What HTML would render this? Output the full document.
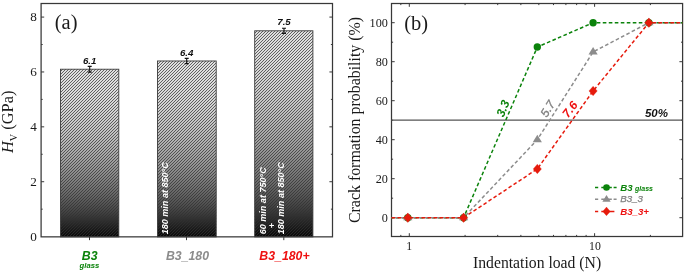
<!DOCTYPE html>
<html><head><meta charset="utf-8"><title>chart</title>
<style>
html,body{margin:0;padding:0;background:#fff;}
svg{display:block;will-change:transform;}
text{font-family:"Liberation Sans",sans-serif;}
.ser{font-family:"Liberation Serif",serif;fill:#1a1a1a;}
.sbi{font-weight:bold;font-style:italic;}
.sb{font-weight:bold;}
.si{font-style:italic;}
.sr{font-weight:normal;}
</style></head><body>
<svg width="685" height="277" viewBox="0 0 685 277">
<rect width="685" height="277" fill="#fff"/>
<defs>
<pattern id="h" width="3" height="3" patternUnits="userSpaceOnUse" shape-rendering="crispEdges">
<rect width="3" height="3" fill="#303030" fill-opacity="0.15"/>
<path d="M0,2h1v1h-1z M1,1h1v1h-1z M2,0h1v1h-1z" fill="#303030" fill-opacity="0.72"/>
</pattern>
<linearGradient id="g" x1="0" y1="0" x2="0" y2="1">
<stop offset="0.00" stop-color="#ffffff"/>
<stop offset="0.05" stop-color="#fefefe"/>
<stop offset="0.10" stop-color="#fcfcfc"/>
<stop offset="0.15" stop-color="#f9f9f9"/>
<stop offset="0.20" stop-color="#f5f5f5"/>
<stop offset="0.25" stop-color="#efefef"/>
<stop offset="0.30" stop-color="#e8e8e8"/>
<stop offset="0.35" stop-color="#e0e0e0"/>
<stop offset="0.40" stop-color="#d6d6d6"/>
<stop offset="0.45" stop-color="#cbcbcb"/>
<stop offset="0.50" stop-color="#bfbfbf"/>
<stop offset="0.55" stop-color="#b2b2b2"/>
<stop offset="0.60" stop-color="#a3a3a3"/>
<stop offset="0.65" stop-color="#939393"/>
<stop offset="0.70" stop-color="#828282"/>
<stop offset="0.75" stop-color="#707070"/>
<stop offset="0.80" stop-color="#5c5c5c"/>
<stop offset="0.85" stop-color="#474747"/>
<stop offset="0.90" stop-color="#303030"/>
<stop offset="0.95" stop-color="#191919"/>
<stop offset="1.00" stop-color="#000000"/>
</linearGradient>
<filter id="bl" x="-2%" y="-2%" width="104%" height="104%"><feGaussianBlur stdDeviation="0.4"/></filter>
</defs>
<rect x="60.5" y="69.22" width="58.30" height="167.63" fill="url(#g)"/>
<rect x="60.5" y="69.22" width="58.30" height="167.63" fill="url(#h)"/>
<rect x="60.5" y="69.22" width="58.30" height="167.63" fill="none" stroke="#3c3c3c" stroke-width="0.9"/>
<path d="M89.7,66.33 V72.10 M87.7,66.33 h4 M87.7,72.10 h4" stroke="#111" stroke-width="1.1" fill="none"/>
<text x="89.7" y="63.82" text-anchor="middle" class="sbi" font-size="9.7" fill="#111">6.1</text>
<rect x="157.5" y="60.98" width="58.70" height="175.87" fill="url(#g)"/>
<rect x="157.5" y="60.98" width="58.70" height="175.87" fill="url(#h)"/>
<rect x="157.5" y="60.98" width="58.70" height="175.87" fill="none" stroke="#3c3c3c" stroke-width="0.9"/>
<path d="M186.7,58.38 V63.59 M184.7,58.38 h4 M184.7,63.59 h4" stroke="#111" stroke-width="1.1" fill="none"/>
<text x="186.7" y="55.58" text-anchor="middle" class="sbi" font-size="9.7" fill="#111">6.4</text>
<rect x="254.7" y="30.80" width="58.20" height="206.05" fill="url(#g)"/>
<rect x="254.7" y="30.80" width="58.20" height="206.05" fill="url(#h)"/>
<rect x="254.7" y="30.80" width="58.20" height="206.05" fill="none" stroke="#3c3c3c" stroke-width="0.9"/>
<path d="M284.0,28.19 V33.41 M282.0,28.19 h4 M282.0,33.41 h4" stroke="#111" stroke-width="1.1" fill="none"/>
<text x="284.0" y="25.40" text-anchor="middle" class="sbi" font-size="9.7" fill="#111">7.5</text>
<rect x="41.1" y="3.5" width="291.4" height="233.35" fill="none" stroke="#383838" stroke-width="1.25"/>
<text x="36.90" y="240.70" text-anchor="end" class="ser" font-size="13.2">0</text>
<text x="36.90" y="185.82" text-anchor="end" class="ser" font-size="13.2">2</text>
<text x="36.90" y="130.94" text-anchor="end" class="ser" font-size="13.2">4</text>
<text x="36.90" y="76.06" text-anchor="end" class="ser" font-size="13.2">6</text>
<text x="36.90" y="21.18" text-anchor="end" class="ser" font-size="13.2">8</text>
<path d="M41.1,209.16 h1.6 M332.5,209.16 h-1.6 M41.1,181.72 h3.1 M332.5,181.72 h-3.1 M41.1,154.28 h1.6 M332.5,154.28 h-1.6 M41.1,126.84 h3.1 M332.5,126.84 h-3.1 M41.1,99.40 h1.6 M332.5,99.40 h-1.6 M41.1,71.96 h3.1 M332.5,71.96 h-3.1 M41.1,44.52 h1.6 M332.5,44.52 h-1.6 M41.1,17.08 h3.1 M332.5,17.08 h-3.1 M89.5,236.85 v3.3 M186.5,236.85 v3.3 M283.8,236.85 v3.3" stroke="#383838" stroke-width="1" fill="none"/>
<text x="54.8" y="28.9" class="ser" font-size="20.5">(a)</text>
<text transform="translate(13.0,153) rotate(-90)" class="ser" font-size="16.4"><tspan style="font-style:italic">H</tspan><tspan style="font-size:10.2px" dy="3.6">V</tspan><tspan dy="-3.6"> (GPa)</tspan></text>
<text x="89.7" y="259.9" text-anchor="middle" class="sbi" font-size="12.3" fill="#0b830b">B3</text>
<text x="89.4" y="267.8" text-anchor="middle" class="sbi" font-size="7.7" fill="#0b830b">glass</text>
<text x="187.5" y="259.6" text-anchor="middle" class="sbi" font-size="12.3" fill="#8c8c8c">B3_180</text>
<text x="284.5" y="259.6" text-anchor="middle" class="sbi" font-size="12.3" fill="#ee1111">B3_180+</text>
<text transform="translate(168.2,234.3) rotate(-90)" class="sbi" font-size="9.05" fill="#fff">180 min at 850°C</text>
<text transform="translate(265.7,234.3) rotate(-90)" class="sbi" font-size="9.05" fill="#fff">60 min at 750°C</text>
<text transform="translate(274.6,228.2) rotate(-90)" class="sbi" font-size="9.05" fill="#fff">+</text>
<text transform="translate(284.0,234.3) rotate(-90)" class="sbi" font-size="9.05" fill="#fff">180 min at 850°C</text>
<rect x="391.5" y="3.5" width="291.10" height="233.00" fill="none" stroke="#383838" stroke-width="1.25"/>
<text x="387.9" y="221.80" text-anchor="end" class="ser" font-size="12.2">0</text>
<text x="387.9" y="182.80" text-anchor="end" class="ser" font-size="12.2">20</text>
<text x="387.9" y="143.80" text-anchor="end" class="ser" font-size="12.2">40</text>
<text x="387.9" y="104.80" text-anchor="end" class="ser" font-size="12.2">60</text>
<text x="387.9" y="65.80" text-anchor="end" class="ser" font-size="12.2">80</text>
<text x="387.9" y="26.80" text-anchor="end" class="ser" font-size="12.2">100</text>
<path d="M391.5,217.70 h3.2 M682.6,217.70 h-3.2 M391.5,198.20 h1.6 M682.6,198.20 h-1.6 M391.5,178.70 h3.2 M682.6,178.70 h-3.2 M391.5,159.20 h1.6 M682.6,159.20 h-1.6 M391.5,139.70 h3.2 M682.6,139.70 h-3.2 M391.5,120.20 h1.6 M682.6,120.20 h-1.6 M391.5,100.70 h3.2 M682.6,100.70 h-3.2 M391.5,81.20 h1.6 M682.6,81.20 h-1.6 M391.5,61.70 h3.2 M682.6,61.70 h-3.2 M391.5,42.20 h1.6 M682.6,42.20 h-1.6 M391.5,22.70 h3.2 M682.6,22.70 h-3.2 M400.82,236.5 v-1.6 M400.82,3.5 v1.6 M409.30,236.5 v-3.3 M409.30,3.5 v3.3 M465.08,236.5 v-1.6 M465.08,3.5 v1.6 M497.71,236.5 v-1.6 M497.71,3.5 v1.6 M520.86,236.5 v-1.6 M520.86,3.5 v1.6 M538.82,236.5 v-1.6 M538.82,3.5 v1.6 M553.49,236.5 v-1.6 M553.49,3.5 v1.6 M565.90,236.5 v-1.6 M565.90,3.5 v1.6 M576.64,236.5 v-1.6 M576.64,3.5 v1.6 M586.12,236.5 v-1.6 M586.12,3.5 v1.6 M594.60,236.5 v-3.3 M594.60,3.5 v3.3 M650.38,236.5 v-1.6 M650.38,3.5 v1.6" stroke="#383838" stroke-width="1" fill="none"/>
<text x="409.30" y="250.2" text-anchor="middle" class="ser" font-size="11.8">1</text>
<text x="594.90" y="250.2" text-anchor="middle" class="ser" font-size="11.8">10</text>
<text x="404.2" y="29.6" class="ser" font-size="20.5">(b)</text>
<text x="537.1" y="267.8" text-anchor="middle" class="ser" font-size="15.7">Indentation load (N)</text>
<text transform="translate(359.8,120) rotate(-90)" text-anchor="middle" class="ser" font-size="15.9">Crack formation probability (%)</text>
<path d="M391.5,120.20 H682.6" stroke="#555" stroke-width="1.2"/>
<text x="668" y="117.1" text-anchor="end" class="sbi" font-size="11.5" fill="#111">50%</text>
<path d="M391.5,217.70 L407.80,217.70 L463.58,217.70 L537.32,47.07 L593.10,22.70 L648.88,22.70 L682.6,22.70" stroke="#0b830b" stroke-width="1.5" stroke-dasharray="3.6 2.4" stroke-dashoffset="1.5" fill="none"/>
<path d="M391.5,217.70 L407.80,217.70 L463.58,217.70 L537.32,139.70 L593.10,51.95 L648.88,22.70 L682.6,22.70" stroke="#8c8c8c" stroke-width="1.5" stroke-dasharray="3.6 2.4" stroke-dashoffset="3.0" fill="none"/>
<path d="M391.5,217.70 L407.80,217.70 L463.58,217.70 L537.32,168.95 L593.10,90.95 L648.88,22.70 L682.6,22.70" stroke="#e61a0c" stroke-width="1.5" stroke-dasharray="3.6 2.4" stroke-dashoffset="0" fill="none"/>
<circle cx="407.80" cy="217.70" r="3.70" fill="#0b830b"/>
<circle cx="463.58" cy="217.70" r="3.70" fill="#0b830b"/>
<circle cx="537.32" cy="47.07" r="3.70" fill="#0b830b"/>
<circle cx="593.10" cy="22.70" r="3.70" fill="#0b830b"/>
<circle cx="648.88" cy="22.70" r="3.70" fill="#0b830b"/>
<path d="M407.80,212.80 L412.40,220.30 L403.20,220.30 Z" fill="#8c8c8c"/>
<path d="M463.58,212.80 L468.18,220.30 L458.98,220.30 Z" fill="#8c8c8c"/>
<path d="M537.32,134.80 L541.92,142.30 L532.72,142.30 Z" fill="#8c8c8c"/>
<path d="M593.10,47.05 L597.70,54.55 L588.50,54.55 Z" fill="#8c8c8c"/>
<path d="M648.88,17.80 L653.48,25.30 L644.28,25.30 Z" fill="#8c8c8c"/>
<path d="M407.80,212.95 L411.95,217.70 L407.80,222.45 L403.65,217.70 Z" fill="#e61a0c" stroke="#e61a0c" stroke-width="0.3" stroke-linejoin="round"/>
<path d="M463.58,212.95 L467.73,217.70 L463.58,222.45 L459.43,217.70 Z" fill="#e61a0c" stroke="#e61a0c" stroke-width="0.3" stroke-linejoin="round"/>
<path d="M537.32,164.20 L541.47,168.95 L537.32,173.70 L533.17,168.95 Z" fill="#e61a0c" stroke="#e61a0c" stroke-width="0.3" stroke-linejoin="round"/>
<path d="M593.10,86.20 L597.25,90.95 L593.10,95.70 L588.95,90.95 Z" fill="#e61a0c" stroke="#e61a0c" stroke-width="0.3" stroke-linejoin="round"/>
<path d="M648.88,17.95 L653.03,22.70 L648.88,27.45 L644.73,22.70 Z" fill="#e61a0c" stroke="#e61a0c" stroke-width="0.3" stroke-linejoin="round"/>
<text transform="translate(503.4,117.8) rotate(-67)" class="sbi" font-size="12" fill="#0b830b">3.3</text>
<text transform="translate(546.7,117.9) rotate(-58)" class="si" font-size="11.9" fill="#808080" stroke="#808080" stroke-width="0.35">5.7</text>
<text transform="translate(568.0,118.5) rotate(-52)" class="sbi" font-size="12" fill="#ee1111">7.6</text>
<path d="M595,187.5 H598.2 M601.3,187.5 H611.8 M613.6,187.5 H616.6" stroke="#0b830b" stroke-width="1.5" fill="none"/>
<circle cx="606.50" cy="187.50" r="3.33" fill="#0b830b"/>
<path d="M595,199.3 H598.2 M601.3,199.3 H611.8 M613.6,199.3 H616.6" stroke="#8c8c8c" stroke-width="1.5" fill="none"/>
<path d="M606.50,194.89 L610.64,201.64 L602.36,201.64 Z" fill="#8c8c8c"/>
<path d="M595,211.4 H598.2 M601.3,211.4 H614.4" stroke="#e61a0c" stroke-width="1.5" fill="none"/>
<path d="M606.50,207.12 L610.24,211.40 L606.50,215.68 L602.76,211.40 Z" fill="#e61a0c" stroke="#e61a0c" stroke-width="0.3" stroke-linejoin="round"/>
<text x="620.2" y="190.6" class="sbi" font-size="9.7" fill="#0b830b">B3 <tspan font-size="7" dx="-0.2" dy="0.4">glass</tspan></text>
<text x="620.2" y="202.4" class="si" font-size="9.8" fill="#808080" stroke="#808080" stroke-width="0.25">B3_3</text>
<text x="620.2" y="214.6" class="sbi" font-size="9.7" fill="#ee1111">B3_3+</text>
</svg>
</body></html>
